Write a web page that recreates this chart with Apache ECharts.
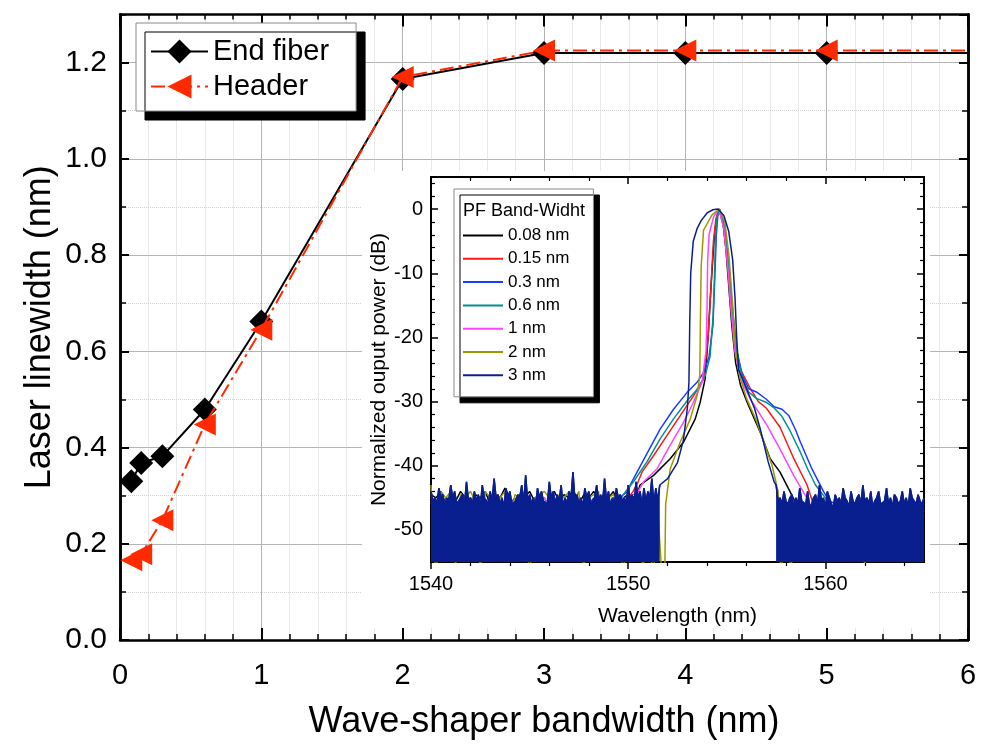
<!DOCTYPE html>
<html><head><meta charset="utf-8">
<script src="https://cdn.jsdelivr.net/npm/echarts@6/dist/echarts.min.js"></script>
<style>html,body{margin:0;padding:0;background:#fff}#c{width:984px;height:745px}</style>
</head><body><div id="c"></div>
<script>
const FONT = 'Liberation Sans, Arial, Helvetica, sans-serif';

// ---------- main chart data ----------
const BW_X = [0.08, 0.15, 0.3, 0.6, 1, 2, 3, 4, 5, 6];
const END_FIBER = [0.33, 0.368, 0.382, 0.479, 0.662, 1.166, 1.22, 1.22, 1.22, 1.22];
const HEADER = [0.166, 0.178, 0.249, 0.448, 0.645, 1.17, 1.225, 1.225, 1.225, 1.225];

// ---------- inset tick values ----------
const WL_MAJOR = [1540, 1550, 1560];
const WL_MINOR = [1542, 1544, 1546, 1548, 1552, 1554, 1556, 1558, 1562, 1564];
const DB_MAJOR = [0, -10, -20, -30, -40, -50];
const DB_MINOR = [4, 2, -2, -4, -6, -8, -12, -14, -16, -18, -22, -24, -26, -28, -32, -34, -36, -38, -42, -44, -46, -48, -52, -54];

const SPEC_NAMES = ['0.08 nm', '0.15 nm', '0.3 nm', '0.6 nm', '1 nm', '2 nm', '3 nm'];
const SPEC_COLORS = ['#000000', '#ff1a1a', '#1a3cff', '#009090', '#ff44ff', '#9a9a00', '#0a1f8f'];

// ---------- inset spectra (dB) ----------
// 0.08 nm
const BLACK_L_START = 1540, BLACK_L_STEP = 0.25;
const BLACK_L = [-44.5,-45,-44,-46,-44.5,-45.5,-44,-45,-47,-44.5,
 -45,-44,-46,-44.5,-45,-43.5,-45,-46,-44.5,-45,
 -44,-45.5,-44.5,-47,-45,-44,-45.5,-44.5,-45,-44,
 -46,-44.5,-45,-44,-45.5,-44.5,-45,-44,-46,-45,
 -44.5,-45,-44];
const BLACK_PEAK = [[1550.6,-43],[1551.29,-41.5],[1552.13,-38.9],[1552.81,-36.3],[1553.4,-32.7],[1553.65,-30.1],[1553.9,-26.5],[1554.05,-20],[1554.2,-12],[1554.35,-5],[1554.45,-2],[1554.6,0],[1554.8,-2],[1554.95,-6],[1555.1,-12],[1555.25,-18],[1555.45,-24],[1555.7,-27.5],[1556.03,-30.1],[1556.7,-34.8],[1557.2,-38.9],[1557.7,-41],[1558.2,-44],[1558.45,-45.5]];
const BLACK_R_START = 1558.75, BLACK_R_STEP = 0.25;
const BLACK_R = [-46,-47,-46.5,-48,-47,-46,-48.5,-47,-46.5,-48,
 -47.5,-46,-47,-48,-46.5,-47.5,-48,-47,-46.5,-48,
 -47,-46,-47.5,-48,-47,-46.5];

// 0.15 nm
const RED_L_START = 1540, RED_L_STEP = 0.25;
const RED_L = [-45.5,-46,-48,-45,-46.5,-45.5,-47,-46,-45,-49,
 -46,-45.5,-46.5,-45,-47,-46,-45.5,-46,-48,-45.5,
 -46,-47,-45,-46.5,-45.5,-46,-50,-45.5,-46,-45,
 -46.5,-47,-45.5,-46,-45,-48,-46,-45.5,-46.5,-45,
 -45,-44,-42.5];
const RED_PEAK = [[1550.7,-41],[1551.29,-38.4],[1551.96,-35.3],[1552.64,-32.2],[1553.31,-29.1],[1553.82,-26.5],[1554.05,-20],[1554.2,-12],[1554.32,-5],[1554.45,-1.5],[1554.6,0],[1554.85,-3],[1555.05,-9],[1555.2,-15],[1555.4,-21],[1555.7,-25],[1556.2,-28],[1556.6,-30],[1557.0,-31],[1557.7,-34],[1558.4,-38.9],[1559.07,-43],[1559.35,-45.6]];
const RED_R_START = 1559.5, RED_R_STEP = 0.25;
const RED_R = [-46,-47,-48,-46.5,-47,-48.5,-47,-46,-48,-47.5,
 -49,-47,-46.5,-48,-47,-50,-47.5,-46,-48,-47,
 -48.5,-47,-48];

// 0.3 nm
const BLUE_L_START = 1540, BLUE_L_STEP = 0.25;
const BLUE_L = [-45,-46,-45.5,-47,-45,-46,-45.5,-46.5,-45,-47,
 -46,-45.5,-45,-46,-47,-45.5,-46,-45,-46.5,-45.5,
 -46,-45,-47,-46,-45.5,-45,-46,-45.5,-47,-45,
 -46,-45.5,-46,-45,-46.5,-45.5,-46,-45,-45.5,-44.5,
 -44];
const BLUE_PEAK = [[1550.1,-43],[1550.36,-41.5],[1550.95,-38.1],[1551.62,-34.3],[1552.3,-31.2],[1552.98,-28.6],[1553.49,-27],[1553.82,-25.5],[1554.1,-23],[1554.3,-18],[1554.4,-10],[1554.47,-4],[1554.55,-0.8],[1554.65,0],[1554.9,-3],[1555.1,-9],[1555.3,-16],[1555.5,-22],[1555.8,-26],[1556.11,-28],[1556.5,-28.5],[1556.99,-29.6],[1557.4,-30.8],[1557.8,-31.2],[1558.15,-32.2],[1558.5,-34.5],[1558.73,-36.3],[1559.32,-40.5],[1559.9,-44],[1560.1,-45]];
const BLUE_R_START = 1560.25, BLUE_R_STEP = 0.25;
const BLUE_R = [-45.5,-46,-47,-46,-47.5,-46.5,-45.5,-47,-46,-48,
 -46.5,-47,-46,-47.5,-46,-47,-46.5,-48,-47,-46];

// 0.6 nm
const TEAL_L_START = 1540, TEAL_L_STEP = 0.25;
const TEAL_L = [-45.5,-46,-45,-46.5,-47,-45.5,-46,-45,-46,-47,
 -45.5,-46,-45,-46.5,-45.5,-46,-47,-45.5,-46,-45,
 -46.5,-46,-45.5,-45,-47,-46,-45.5,-46,-45,-46.5,
 -45.5,-46,-45,-46.5,-47,-45.5,-46,-45,-45.5,-44.5,
 -43.5];
const TEAL_PEAK = [[1550.27,-42.5],[1550.95,-39.4],[1551.62,-35.8],[1552.3,-32.7],[1552.98,-29.9],[1553.49,-28.1],[1553.9,-26],[1554.15,-23],[1554.3,-17],[1554.38,-10],[1554.43,-4],[1554.52,-1],[1554.62,0],[1554.9,-3],[1555.1,-9],[1555.3,-16],[1555.5,-22],[1555.8,-26.5],[1556.11,-28.5],[1556.5,-29.5],[1556.99,-30.1],[1557.4,-31],[1557.77,-32.2],[1558.2,-34.5],[1558.73,-37.9],[1559.1,-40.5],[1559.5,-43],[1560.0,-45]];
const TEAL_R_START = 1560.25, TEAL_R_STEP = 0.25;
const TEAL_R = [-46,-47,-46.5,-48,-46,-47,-46.5,-47.5,-46,-48,
 -47,-46.5,-47,-48.5,-46.5,-47,-46,-48,-47,-46.5];

// 1 nm
const PINK_L_START = 1540, PINK_L_STEP = 0.25;
const PINK_L = [-46,-45.5,-47,-46,-45.5,-46.5,-47,-45.5,-46,-45,
 -46.5,-47,-46,-45.5,-46,-47.5,-46,-45.5,-46,-47,
 -45.5,-46,-46.5,-45,-46,-47,-45.5,-46,-46.5,-45.5,
 -47,-46,-45.5,-46,-45,-46.5,-47,-45.5,-46,-45,
 -45.5,-44.5,-44];
const PINK_PEAK = [[1550.78,-42.5],[1551.46,-40.5],[1552.13,-36.8],[1552.81,-33.2],[1553.31,-30.1],[1553.74,-27],[1553.95,-22],[1554.0,-15],[1554.03,-8],[1554.1,-4],[1554.33,-1.2],[1554.6,0],[1554.85,-3],[1555.05,-9],[1555.2,-15],[1555.4,-22],[1555.7,-26.5],[1556.19,-29.6],[1557.04,-33.7],[1557.7,-37.4],[1558.39,-41.5],[1559.07,-45.1],[1559.35,-46.7]];
const PINK_R_START = 1559.5, PINK_R_STEP = 0.25;
const PINK_R = [-47,-48,-47.5,-49,-48,-47,-50,-48.5,-47.5,-49,
 -48,-47,-49.5,-48,-47.5,-50,-48.5,-47,-49,-48,
 -50.5,-48,-47.5];

// 2 nm
const OLIVE_L_START = 1540, OLIVE_L_STEP = 0.25;
const OLIVE_L = [-43,-58,-44,-45,-44,-56,-44.5,-45,-44,-45.5,
 -57,-44,-45,-44.5,-45,-44,-52,-44.5,-45,-44,
 -58,-45,-44.5,-44,-45,-53,-44.5,-45,-44,-45.5,
 -44,-57,-45,-44.5,-44,-55,-45,-44.5,-46,-58,
 -45,-50,-44.5,-57,-46,-58,-47,-59];
const OLIVE_PEAK = [[1551.85,-58],[1551.9,-46],[1552.13,-40.5],[1552.64,-36.3],[1553.15,-32.7],[1553.49,-29.1],[1553.63,-26],[1553.66,-18],[1553.7,-9],[1553.82,-3.3],[1554.25,-0.9],[1554.62,0],[1554.9,-2],[1555.1,-7],[1555.3,-15],[1555.45,-22],[1555.65,-26],[1556.0,-29.5],[1556.5,-33],[1556.9,-36.5],[1557.3,-40],[1557.6,-44]];
const OLIVE_R_START = 1557.75, OLIVE_R_STEP = 0.25;
const OLIVE_R = [-58,-46,-57,-45,-50,-46,-47,-45.5,-46.5,-55,
 -46,-47,-45.5,-46,-48,-46.5,-47,-56,-46,-47.5,
 -46.5,-48,-47,-49,-47,-46.5,-52,-47,-48,-47];

// 3 nm (noise floor upper envelope; the floor itself is filled down to the axis)
const NAVY_L_START = 1540, NAVY_L_STEP = 0.1;
const NAVY_L = [-44,-45.5,-45,-46,-43.5,-45,-44.5,-46.5,-45,-45.5,
 -43,-45,-44,-46,-46,-45,-44.5,-46,-42.5,-45.5,
 -45,-46,-44,-45.5,-44.5,-46.5,-43,-45,-45.5,-46,
 -44,-45.5,-42,-45,-44.5,-46,-45,-46.5,-43.5,-45,
 -44,-46,-46,-45.5,-44.5,-45,-43,-46,-41.5,-45.5,
 -44.5,-46,-45,-46.5,-43.5,-45,-44,-45.5,-45.5,-46,
 -42.5,-45,-44,-46,-44.5,-45.5,-43,-46.5,-45,-46,
 -44,-45,-41,-45.5,-44.5,-46,-45,-46.5,-43.5,-45,
 -44,-46,-45.5,-45,-43,-45.5,-44.5,-46,-42,-45.5,
 -44,-46.5,-45,-46,-43.5,-45,-44.5,-45.5,-45,-46,
 -43,-45.5,-44.5,-46,-42.5,-45,-44,-46,-43.5,-45.5,
 -44,-45,-42,-46,-43.5,-45.5,-43];
const NAVY_PEAK = [[1551.7,-43],[1552.0,-42],[1552.5,-39.5],[1552.8,-36],[1553.0,-31],[1553.08,-27],[1553.12,-18],[1553.17,-10],[1553.3,-5],[1553.5,-3],[1553.7,-1.8],[1554.0,-0.6],[1554.3,-0.1],[1554.55,0],[1554.85,-1],[1555.1,-3.5],[1555.3,-8],[1555.42,-14],[1555.5,-20],[1555.6,-25],[1556.0,-28],[1556.4,-31],[1556.7,-34.3],[1557.1,-39.4],[1557.4,-42.5]];
const NAVY_R_START = 1557.5, NAVY_R_STEP = 0.1;
const NAVY_R = [-43,-45.5,-45,-46,-44,-45.5,-46,-45,-44.5,-46.5,
 -45,-46,-43.5,-45.5,-45.5,-46,-44,-46.5,-46,-45,
 -44.5,-46,-43,-45.5,-45,-46.5,-44,-45,-46,-46.5,
 -44.5,-45.5,-45,-46,-43.5,-45,-45.5,-46.5,-44,-45.5,
 -46,-45,-44.5,-46,-43,-45.5,-45,-46,-44,-46.5,
 -45.5,-45,-44,-46,-46,-45.5,-43.5,-46,-45,-46.5,
 -44.5,-45,-46,-45.5,-44,-46,-45,-46.5,-43.5,-45,
 -45,-46,-44.5,-45.5,-46,-45];

function sampled(start, step, vals) {
  return vals.map((v, i) => [Math.round((start + i * step) * 1000) / 1000, v]);
}
const NAVY_FLOOR_L = sampled(NAVY_L_START, NAVY_L_STEP, NAVY_L);
const NAVY_FLOOR_R = sampled(NAVY_R_START, NAVY_R_STEP, NAVY_R);
const SPECTRA = [
  sampled(BLACK_L_START, BLACK_L_STEP, BLACK_L).concat(BLACK_PEAK, sampled(BLACK_R_START, BLACK_R_STEP, BLACK_R)),
  sampled(RED_L_START, RED_L_STEP, RED_L).concat(RED_PEAK, sampled(RED_R_START, RED_R_STEP, RED_R)),
  sampled(BLUE_L_START, BLUE_L_STEP, BLUE_L).concat(BLUE_PEAK, sampled(BLUE_R_START, BLUE_R_STEP, BLUE_R)),
  sampled(TEAL_L_START, TEAL_L_STEP, TEAL_L).concat(TEAL_PEAK, sampled(TEAL_R_START, TEAL_R_STEP, TEAL_R)),
  sampled(PINK_L_START, PINK_L_STEP, PINK_L).concat(PINK_PEAK, sampled(PINK_R_START, PINK_R_STEP, PINK_R)),
  sampled(OLIVE_L_START, OLIVE_L_STEP, OLIVE_L).concat(OLIVE_PEAK, sampled(OLIVE_R_START, OLIVE_R_STEP, OLIVE_R)),
  NAVY_FLOOR_L.concat(NAVY_PEAK, NAVY_FLOOR_R)
];

function mainData(ys) {
  return BW_X.map((x, i) => i === BW_X.length - 1 ? { value: [x, ys[i]], symbol: 'none' } : [x, ys[i]]);
}

const BLACK = '#000';
const txt = (size) => ({ fontSize: size, color: '#000', fontFamily: FONT });
const frameLine = (w) => ({ show: true, onZero: false, lineStyle: { color: BLACK, width: w } });
const noSplit = { show: false };

const xAxes = [
  // main bottom
  { gridIndex: 0, type: 'value', min: 0, max: 6, interval: 1, position: 'bottom',
    axisLine: frameLine(2.5),
    axisTick: { show: true, inside: true, length: 12, lineStyle: { color: BLACK, width: 2 } },
    minorTick: { show: true, splitNumber: 5, length: 6, lineStyle: { color: BLACK, width: 1.5 } },
    axisLabel: Object.assign({ margin: 21 }, txt(29)),
    splitLine: { show: true, lineStyle: { color: '#b4b4b4', width: 1 } },
    minorSplitLine: { show: true, lineStyle: { color: '#d2d2d2', width: 1, type: 'dotted' } },
    name: 'Wave-shaper bandwidth (nm)', nameLocation: 'middle', nameGap: 64, nameMoveOverlap: false, nameTextStyle: txt(36) },
  // main top
  { gridIndex: 0, type: 'value', min: 0, max: 6, interval: 1, position: 'top',
    axisLine: frameLine(2.5),
    axisTick: { show: true, inside: true, length: 12, lineStyle: { color: BLACK, width: 2 } },
    minorTick: { show: true, splitNumber: 5, length: 5, lineStyle: { color: BLACK, width: 1.5 } },
    axisLabel: { show: false }, splitLine: noSplit },
  // inset bottom major
  { gridIndex: 1, type: 'value', min: 1540, max: 1565, position: 'bottom', z: 3,
    axisLine: frameLine(2),
    axisTick: { show: true, inside: false, length: 7, customValues: WL_MAJOR, lineStyle: { color: BLACK, width: 1.5 } },
    axisLabel: Object.assign({ margin: 12, customValues: WL_MAJOR, formatter: (v) => String(v) }, txt(20)),
    splitLine: noSplit,
    name: 'Wavelength (nm)', nameLocation: 'middle', nameGap: 44, nameMoveOverlap: false, nameTextStyle: txt(21) },
  // inset bottom minor
  { gridIndex: 1, type: 'value', min: 1540, max: 1565, position: 'bottom', z: 3,
    axisLine: frameLine(2),
    axisTick: { show: true, inside: false, length: 4, customValues: WL_MINOR, lineStyle: { color: BLACK, width: 1.2 } },
    axisLabel: { show: false }, splitLine: noSplit },
  // inset top major
  { gridIndex: 1, type: 'value', min: 1540, max: 1565, position: 'top', z: 3,
    axisLine: frameLine(2),
    axisTick: { show: true, inside: true, length: 7, customValues: WL_MAJOR, lineStyle: { color: BLACK, width: 1.5 } },
    axisLabel: { show: false }, splitLine: noSplit },
  // inset top minor
  { gridIndex: 1, type: 'value', min: 1540, max: 1565, position: 'top', z: 3,
    axisLine: frameLine(2),
    axisTick: { show: true, inside: true, length: 4, customValues: WL_MINOR, lineStyle: { color: BLACK, width: 1.2 } },
    axisLabel: { show: false }, splitLine: noSplit }
];

const yAxes = [
  // main left minor (0.1 steps, dotted split lines at odd tenths)
  { gridIndex: 0, type: 'value', min: 0, max: 1.3, interval: 0.1, position: 'left',
    axisLine: frameLine(2.5),
    axisTick: { show: true, inside: true, length: 6, lineStyle: { color: BLACK, width: 1.5 } },
    axisLabel: { show: false },
    splitLine: { show: true, lineStyle: { color: ['rgba(0,0,0,0)', '#d2d2d2'], width: 1, type: 'dotted' } } },
  // main left major
  { gridIndex: 0, type: 'value', min: 0, max: 1.3, interval: 0.2, position: 'left',
    axisLine: frameLine(2.5),
    axisTick: { show: true, inside: true, length: 9, lineStyle: { color: BLACK, width: 2 } },
    axisLabel: Object.assign({ margin: 13, showMaxLabel: false, formatter: (v) => v.toFixed(1) }, txt(30)),
    splitLine: { show: true, lineStyle: { color: '#b4b4b4', width: 1 } },
    name: 'Laser linewidth (nm)', nameLocation: 'middle', nameGap: 62, nameMoveOverlap: false, nameTextStyle: txt(36) },
  // main right minor
  { gridIndex: 0, type: 'value', min: 0, max: 1.3, interval: 0.1, position: 'right',
    axisLine: frameLine(2.5),
    axisTick: { show: true, inside: true, length: 6, lineStyle: { color: BLACK, width: 1.5 } },
    axisLabel: { show: false }, splitLine: noSplit },
  // main right major
  { gridIndex: 0, type: 'value', min: 0, max: 1.3, interval: 0.2, position: 'right',
    axisLine: frameLine(2.5),
    axisTick: { show: true, inside: true, length: 9, lineStyle: { color: BLACK, width: 2 } },
    axisLabel: { show: false }, splitLine: noSplit },
  // inset left major
  { gridIndex: 1, type: 'value', min: -55, max: 5, position: 'left', z: 3,
    axisLine: frameLine(2),
    axisTick: { show: true, inside: true, length: 7, customValues: DB_MAJOR, lineStyle: { color: BLACK, width: 1.5 } },
    axisLabel: Object.assign({ margin: 8, customValues: DB_MAJOR }, txt(20)),
    splitLine: noSplit,
    name: 'Normalized ouput power (dB)', nameLocation: 'middle', nameGap: 41, nameMoveOverlap: false, nameTextStyle: txt(21) },
  // inset left minor
  { gridIndex: 1, type: 'value', min: -55, max: 5, position: 'left', z: 3,
    axisLine: frameLine(2),
    axisTick: { show: true, inside: true, length: 4, customValues: DB_MINOR, lineStyle: { color: BLACK, width: 1.2 } },
    axisLabel: { show: false }, splitLine: noSplit },
  // inset right major
  { gridIndex: 1, type: 'value', min: -55, max: 5, position: 'right', z: 3,
    axisLine: frameLine(2),
    axisTick: { show: true, inside: true, length: 7, customValues: DB_MAJOR, lineStyle: { color: BLACK, width: 1.5 } },
    axisLabel: { show: false }, splitLine: noSplit },
  // inset right minor
  { gridIndex: 1, type: 'value', min: -55, max: 5, position: 'right', z: 3,
    axisLine: frameLine(2),
    axisTick: { show: true, inside: true, length: 4, customValues: DB_MINOR, lineStyle: { color: BLACK, width: 1.2 } },
    axisLabel: { show: false }, splitLine: noSplit }
];

const NAVY = SPEC_COLORS[6];
const floorSeries = (name, d) => ({
  name: name, type: 'line', xAxisIndex: 2, yAxisIndex: 4, data: d, symbol: 'none',
  color: NAVY, lineStyle: { color: NAVY, width: 1.5 },
  areaStyle: { color: NAVY, opacity: 1, origin: 'start' }, z: 5, clip: true
});

const series = [
  { name: 'End fiber', type: 'line', xAxisIndex: 0, yAxisIndex: 1, data: mainData(END_FIBER),
    symbol: 'diamond', symbolSize: 24, color: '#000', itemStyle: { color: '#000' },
    lineStyle: { color: '#000', width: 2 }, z: 2, clip: false },
  { name: 'Header', type: 'line', xAxisIndex: 0, yAxisIndex: 1, data: mainData(HEADER),
    symbol: 'triangle', symbolSize: 22, symbolRotate: 90, color: '#ff2a00', itemStyle: { color: '#ff2a00' },
    lineStyle: { color: '#ff2a00', width: 2, type: [14, 5, 3, 5] }, z: 3, clip: false }
].concat(SPECTRA.map((d, i) => ({
  name: SPEC_NAMES[i], type: 'line', xAxisIndex: 2, yAxisIndex: 4, data: d,
  symbol: 'none', color: SPEC_COLORS[i],
  lineStyle: { color: SPEC_COLORS[i], width: 1.5 }, z: i === 6 ? 5 : 4, clip: true
}))).concat([floorSeries('3 nm floor L', NAVY_FLOOR_L), floorSeries('3 nm floor R', NAVY_FLOOR_R)]);

const option = {
  animation: false,
  backgroundColor: '#fff',
  textStyle: { fontFamily: FONT },
  grid: [
    { left: 120, right: 16, top: 14.5, bottom: 104, containLabel: false },
    { left: 431, right: 60, top: 177, bottom: 183, containLabel: false }
  ],
  xAxis: xAxes,
  yAxis: yAxes,
  legend: [
    { data: ['End fiber', 'Header'], orient: 'vertical', left: 136, top: 23,
      itemWidth: 57, itemHeight: 30, itemGap: 6, padding: [14, 27, 10, 14],
      backgroundColor: '#fff', borderColor: '#8a8a8a', borderWidth: 1,
      shadowColor: '#000', shadowBlur: 0, shadowOffsetX: 9, shadowOffsetY: 9,
      textStyle: { fontSize: 29, color: '#000', fontFamily: FONT },
      selectedMode: false, z: 6 },
    { data: SPEC_NAMES, orient: 'vertical', left: 454, top: 189, icon: 'rect',
      itemWidth: 40, itemHeight: 2, itemGap: 6.3, padding: [38, 24, 13, 9],
      backgroundColor: '#fff', borderColor: '#8a8a8a', borderWidth: 1,
      shadowColor: '#000', shadowBlur: 0, shadowOffsetX: 6, shadowOffsetY: 6,
      textStyle: { fontSize: 17, color: '#000', fontFamily: FONT },
      selectedMode: false, z: 6 }
  ],
  graphic: [
    { type: 'rect', shape: { x: 362, y: 171, width: 568, height: 457 }, style: { fill: '#fff' }, z: 1, silent: true },
    { type: 'text', left: 463, top: 202, style: { text: 'PF Band-Widht', fontSize: 18, fill: '#000', fontFamily: FONT }, z: 100, silent: true }
  ],
  series: series
};

const chart = echarts.init(document.getElementById('c'), null, { renderer: 'canvas' });
chart.setOption(option);
</script>
</body></html>
